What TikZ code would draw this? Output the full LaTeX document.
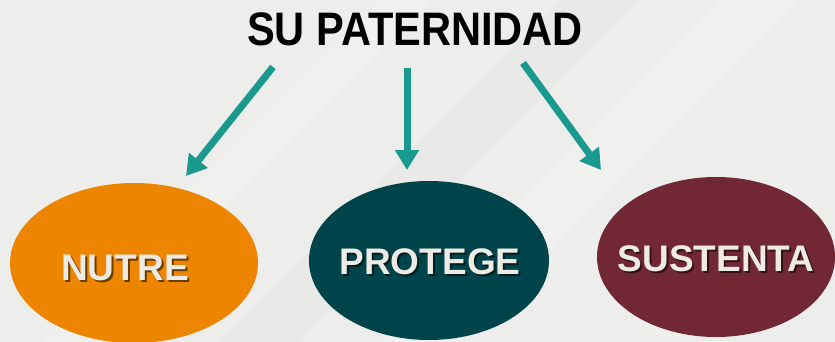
\documentclass[tikz,border=0pt]{standalone}
\usepackage{fontspec}
\setmainfont{Liberation Sans}
\usetikzlibrary{arrows.meta,shapes.geometric}
\definecolor{bgc}{HTML}{EDEDEC}
\definecolor{arrowc}{HTML}{1A9A8F}
\definecolor{orangec}{HTML}{EE8500}
\definecolor{tealc}{HTML}{00444B}
\definecolor{maroonc}{HTML}{722834}
\definecolor{txtc}{HTML}{EEEBE5}
\newcommand{\shadowed}[2]{\makebox[0pt][l]{\hspace{2pt}\raisebox{-2pt}{\textcolor{#1}{#2}}}#2}
\tikzset{
  blob/.style={ellipse, draw=none, inner sep=0pt},
  lbl/.style={font=\fontsize{37}{40}\selectfont\bfseries, text=txtc, inner sep=0pt},
  conn/.style={arrowc, line width=7pt, -{Triangle[width=23pt,length=20pt]}},
}
\begin{document}
\begin{tikzpicture}[x=1pt,y=-1pt]
\useasboundingbox (0,0) rectangle (835,342);
\fill[bgc] (0,0) rectangle (835,342);
% subtle diagonal bands
\begin{scope}
\clip (0,0) rectangle (835,342);
\fill[white,opacity=0.2] (380,0) -- (430,0) -- (90,342) -- (40,342) -- cycle;
\fill[white,opacity=0.18] (720,0) -- (800,0) -- (460,342) -- (380,342) -- cycle;
\fill[white,opacity=0.15] (835,120) -- (835,180) -- (680,342) -- (620,342) -- cycle;
\fill[black,opacity=0.015] (560,0) -- (640,0) -- (300,342) -- (220,342) -- cycle;
\end{scope}
% title
\node[inner sep=0pt, font=\fontsize{47}{50}\selectfont\bfseries, xscale=0.885] (title) at (415,29.5) {SU PATERNIDAD};
% ellipses
\node[blob, fill=orangec, minimum width=248pt, minimum height=160pt] (nutre) at (134,263) {};
\node[blob, fill=tealc, minimum width=240pt, minimum height=159pt] (protege) at (429,260.5) {};
\node[blob, fill=maroonc, minimum width=238pt, minimum height=160pt] (sustenta) at (716,257) {};
% labels with shadow
\node[lbl] (nutreT) at (125,268.5) {\shadowed{orangec!45!black}{NUTRE}};
\node[lbl] (protegeT) at (430,263) {\shadowed{tealc!45!black}{PROTEGE}};
\node[lbl] (sustentaT) at (716,260) {\shadowed{maroonc!45!black}{SUSTENTA}};
% arrow endpoints
\coordinate (a1s) at (273,67);
\coordinate (a1e) at (186,176);
\coordinate (a2s) at (407,68);
\coordinate (a2e) at (407,170);
\coordinate (a3s) at (523,63);
\coordinate (a3e) at (601,170);
\draw[conn] (a1s) -- (a1e);
\draw[conn] (a2s) -- (a2e);
\draw[conn] (a3s) -- (a3e);
\end{tikzpicture}
\end{document}
